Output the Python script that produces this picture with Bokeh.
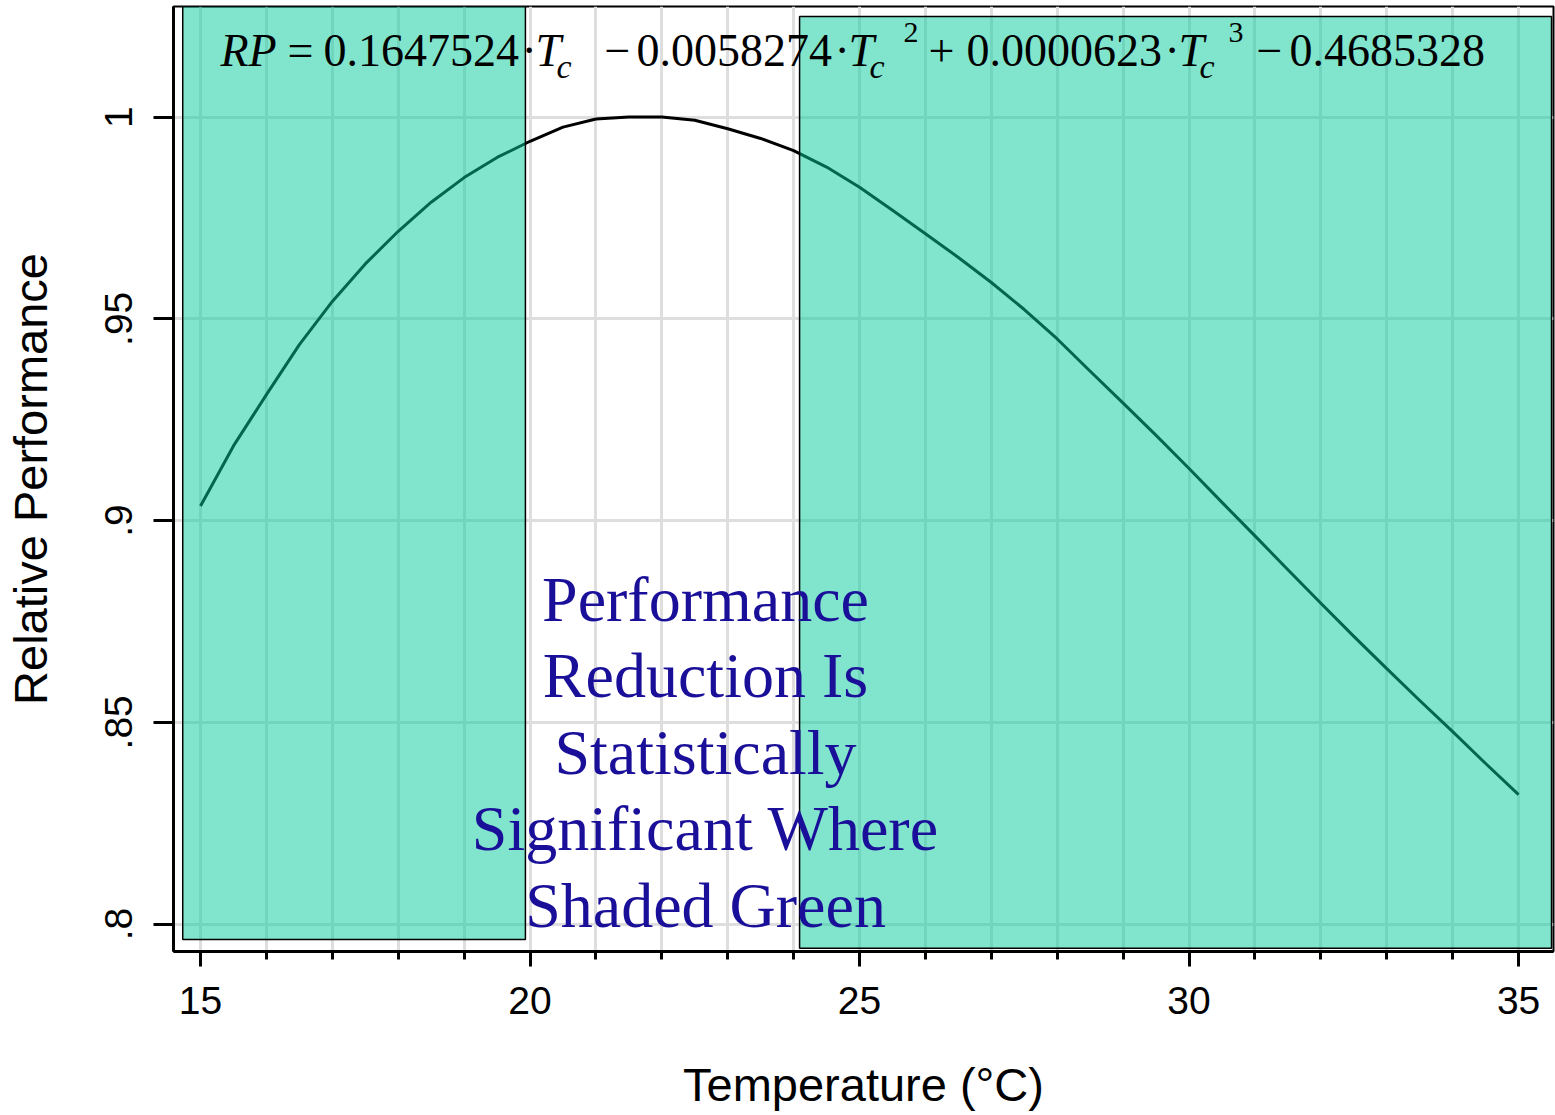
from bokeh.plotting import figure
from bokeh.models import Range1d, FixedTicker, Label
from bokeh.core.properties import value
from bokeh.embed import file_html
from bokeh.resources import INLINE

# Relative performance curve sampled every 0.5 degC
temps = [15.0, 15.5, 16.0, 16.5, 17.0, 17.5, 18.0, 18.5, 19.0, 19.5, 20.0,
         20.5, 21.0, 21.5, 22.0, 22.5, 23.0, 23.5, 24.0, 24.5, 25.0,
         25.5, 26.0, 26.5, 27.0, 27.5, 28.0, 28.5, 29.0, 29.5, 30.0,
         30.5, 31.0, 31.5, 32.0, 32.5, 33.0, 33.5, 34.0, 34.5, 35.0]
rel_perf = [0.9036, 0.9185, 0.9312, 0.9436, 0.9543, 0.9636, 0.9717, 0.9789, 0.9850, 0.9900, 0.9940,
            0.9975, 0.9995, 1.0000, 1.0000, 0.9992, 0.9971, 0.9947, 0.9917, 0.9876, 0.9826,
            0.9769, 0.9711, 0.9652, 0.9590, 0.9523, 0.9450, 0.9370, 0.9291, 0.9211, 0.9129,
            0.9045, 0.8962, 0.8878, 0.8795, 0.8713, 0.8633, 0.8554, 0.8477, 0.8398, 0.8321]

# Temperature bands where the reduction is significant
sig_left = [14.73, 24.09]
sig_right = [19.93, 35.50]
sig_bottom = [0.7962, 0.7940]
sig_top = [1.0274, 1.0249]

x_major = [15, 20, 25, 30, 35]
x_minor = [16, 17, 18, 19, 21, 22, 23, 24, 26, 27, 28, 29, 31, 32, 33, 34]
y_ticks = [0.8, 0.85, 0.9, 0.95, 1.0]
y_tick_labels = [".8", ".85", ".9", ".95", "1"]

note_lines = ["Performance", "Reduction Is", "Statistically",
              "Significant Where", "Shaded Green"]

X0, X1 = 14.59, 35.53
Y0, Y1 = 0.7932, 1.0274
W, H = 1555, 1115
LEFT, RIGHT, TOP, BOTTOM = 173, 2, 6, 164
FRAME_W = W - LEFT - RIGHT
FRAME_H = H - TOP - BOTTOM
BASELINE_SHIFT = 0.38  # em fraction the svg text sits below the requested baseline


def sx(px):
    """canvas x pixel -> temperature"""
    return X0 + (px - LEFT) * (X1 - X0) / FRAME_W


def sy(py):
    """canvas y pixel -> relative performance"""
    return Y1 - (py - TOP) * (Y1 - Y0) / FRAME_H


p = figure(width=W, height=H, x_range=Range1d(X0, X1), y_range=Range1d(Y0, Y1),
           output_backend="svg", toolbar_location=None,
           min_border_left=LEFT, min_border_right=RIGHT,
           min_border_top=TOP, min_border_bottom=BOTTOM)
p.background_fill_color = "white"
p.border_fill_color = "white"
p.outline_line_color = "black"
p.outline_line_width = 2

# grid
grid_col = "#dedede"
p.xgrid.grid_line_color = grid_col
p.xgrid.grid_line_width = 3
p.xgrid.minor_grid_line_color = grid_col
p.xgrid.minor_grid_line_width = 3
p.ygrid.grid_line_color = grid_col
p.ygrid.grid_line_width = 3

# x axis
xa = p.xaxis[0]
xa.ticker = FixedTicker(ticks=x_major, minor_ticks=x_minor)
xa.axis_line_width = 3
xa.major_tick_line_width = 3
xa.minor_tick_line_width = 3
xa.major_tick_in = 0
xa.major_tick_out = 15
xa.minor_tick_in = 0
xa.minor_tick_out = 8
xa.major_label_text_font = "Liberation Sans"
xa.major_label_text_font_size = "39px"
xa.major_label_text_color = "black"
xa.major_label_standoff = 20
xa.axis_label = "Temperature (°C)"
xa.axis_label_text_font = "Liberation Sans"
xa.axis_label_text_font_size = "47px"
xa.axis_label_text_font_style = "normal"
xa.axis_label_text_color = "black"
xa.axis_label_standoff = 41

# y axis
ya = p.yaxis[0]
ya.ticker = FixedTicker(ticks=y_ticks, minor_ticks=[])
ya.major_label_overrides = dict(zip(y_ticks, y_tick_labels))
ya.major_label_orientation = "vertical"
ya.axis_line_width = 3
ya.major_tick_line_width = 3
ya.major_tick_in = 0
ya.major_tick_out = 20
ya.minor_tick_out = 0
ya.minor_tick_in = 0
ya.major_label_text_font = "Liberation Sans"
ya.major_label_text_font_size = "39px"
ya.major_label_text_color = "black"
ya.major_label_standoff = 21
ya.axis_label = "Relative Performance"
ya.axis_label_text_font = "Liberation Sans"
ya.axis_label_text_font_size = "47px"
ya.axis_label_text_font_style = "normal"
ya.axis_label_text_color = "black"
ya.axis_label_standoff = 46

# response curve, then translucent significance bands over it
p.line(temps, rel_perf, line_color="black", line_width=3, line_join="round")
p.quad(left=sig_left, right=sig_right, bottom=sig_bottom, top=sig_top,
       fill_color="#04CC9C", fill_alpha=0.5, line_color="black", line_width=1.5)

# note in the middle of the plot
note_size = 64
note_x = sx(705)
note_top = sy(623 - BASELINE_SHIFT * note_size)
note_step = sy(623) - sy(699.5)
p.text(x=[note_x] * len(note_lines),
       y=[note_top - i * note_step for i in range(len(note_lines))],
       text=note_lines, text_font=value("Liberation Serif"),
       text_font_size=f"{note_size}px", text_color="#1a0f99",
       text_align="center", text_baseline="alphabetic")

# fitted polynomial written across the top
MAIN, SUB, SUP = 67, 79, 43
eq_pieces = [
    ("RP", 220, MAIN, 46, "italic"),
    ("=", 287, MAIN, 46, "normal"),
    ("0.1647524", 323, MAIN, 46, "normal"),
    ("·", 521, MAIN, 46, "normal"),
    ("T", 535, MAIN, 46, "italic"),
    ("c", 556, SUB, 34, "italic"),
    ("−", 604, MAIN, 46, "normal"),
    ("0.0058274", 636, MAIN, 46, "normal"),
    ("·", 834, MAIN, 46, "normal"),
    ("T", 848, MAIN, 46, "italic"),
    ("c", 869, SUB, 34, "italic"),
    ("2", 903, SUP, 30, "normal"),
    ("+", 928, MAIN, 46, "normal"),
    ("0.0000623", 966, MAIN, 46, "normal"),
    ("·", 1164, MAIN, 46, "normal"),
    ("T", 1178, MAIN, 46, "italic"),
    ("c", 1199, SUB, 34, "italic"),
    ("3", 1228, SUP, 30, "normal"),
    ("−", 1256, MAIN, 46, "normal"),
    ("0.4685328", 1289, MAIN, 46, "normal"),
]
for txt, px, py, size, style in eq_pieces:
    p.add_layout(Label(x=sx(px), y=sy(py - BASELINE_SHIFT * size), text=txt,
                       text_font="Liberation Serif", text_font_size=f"{size}px",
                       text_font_style=style, text_color="black",
                       text_align="left", text_baseline="alphabetic"))

open("out.html", "w").write(file_html(p, INLINE))
